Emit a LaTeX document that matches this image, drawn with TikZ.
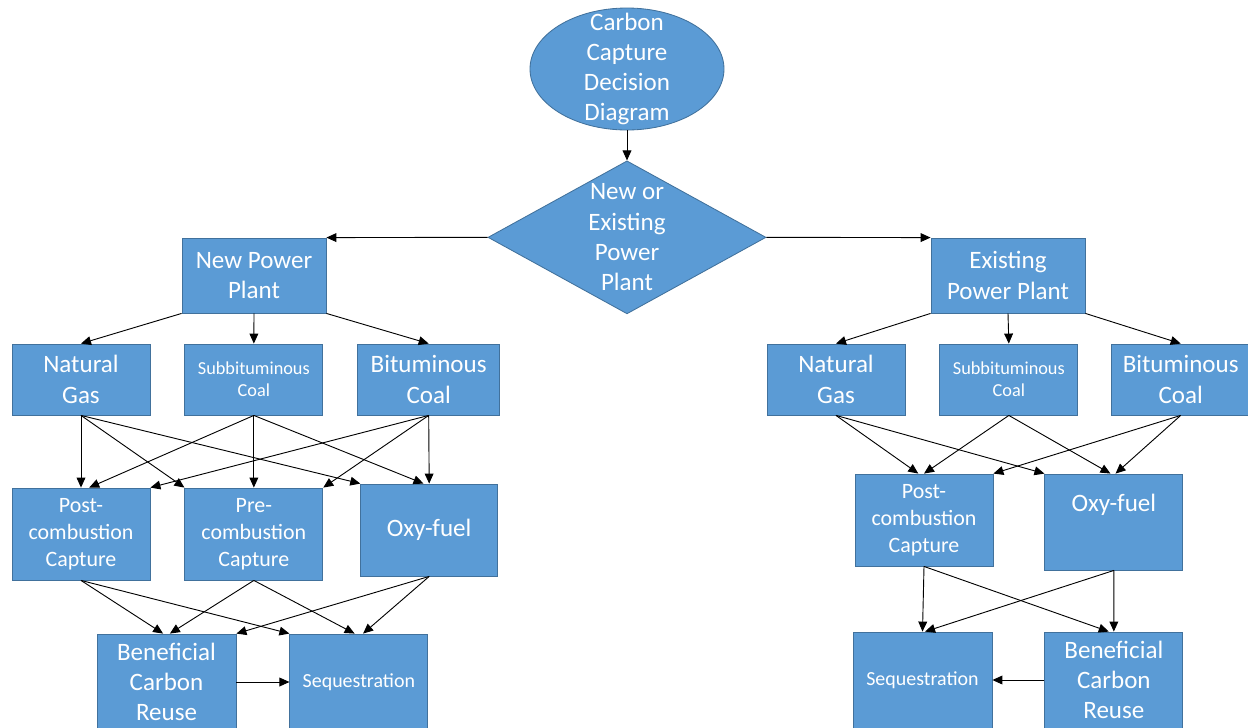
\documentclass[tikz,border=0pt]{standalone}
\usepackage{fontspec}
\setmainfont{Carlito}
\usetikzlibrary{arrows.meta,positioning,shapes.geometric}
\definecolor{boxfill}{HTML}{5B9BD5}
\definecolor{boxline}{HTML}{41719C}
\newcommand{\bigtxt}{\fontsize{17.8pt}{21.5pt}\selectfont}
\newcommand{\midtxt}{\fontsize{15.6pt}{19.2pt}\selectfont}
\newcommand{\smalltxt}{\fontsize{13pt}{15.6pt}\selectfont}
\newcommand{\seqtxt}{\fontsize{14.2pt}{17pt}\selectfont}
\tikzset{
  box/.style={draw=boxline, fill=boxfill, line width=0.6pt, text=white, align=center, inner sep=2pt, font=\bigtxt},
  fuel/.style={box, minimum width=3.45cm, minimum height=1.775cm},
  plant/.style={box, minimum width=3.6cm, minimum height=1.875cm},
  tech/.style={box, minimum width=3.45cm, minimum height=2.3cm, font=\midtxt},
  goal/.style={box, minimum width=3.45cm, minimum height=2.4cm},
  oval/.style={ellipse, draw=boxline, fill=boxfill, line width=0.6pt, minimum width=4.85cm, minimum height=3.05cm, inner sep=0pt},
  decision/.style={diamond, draw=boxline, fill=boxfill, line width=0.6pt, minimum width=6.95cm, minimum height=3.825cm, inner sep=0pt},
  txt/.style={text=white, align=center, font=\bigtxt},
  flow/.style={-{Triangle[length=2.5mm, width=2.2mm]}, line width=0.65pt, draw=black}
}
\begin{document}
\begin{tikzpicture}
  \useasboundingbox (0,0) rectangle (31.2,-18.175);
  \node[oval, label={[txt]center:{Carbon\\Capture\\Decision\\Diagram}}] (start) at (15.675,-1.725) {};
  \node[decision, below=0.75cm of start, label={[txt]center:{New or\\Existing\\Power\\Plant}}] (kind) {};

  % new plant
  \node[plant] (newpp) at (6.35,-6.8875) {New Power\\Plant};
  \node[fuel] (gas1) at (2.025,-9.4875) {Natural\\Gas};
  \node[fuel, font=\smalltxt, right=0.85cm of gas1] (sub1) {Subbituminous\\Coal};
  \node[fuel, minimum width=3.55cm, right=0.85cm of sub1] (bit1) {Bituminous\\Coal};
  \node[tech] (post1) at (2.025,-13.35) {Post-\\combustion\\Capture};
  \node[tech, right=0.85cm of post1] (pre1) {Pre-\\combustion\\Capture};
  \node[tech, font=\bigtxt, minimum width=3.425cm, right=0.925cm of pre1, yshift=0.1cm] (oxy1) {Oxy-fuel};
  \node[goal, minimum width=3.475cm] (reuse1) at (4.1625,-17.05) {Beneficial\\Carbon\\Reuse};
  \node[goal, font=\seqtxt, right=1.325cm of reuse1] (seq1) {Sequestration};

  % existing plant
  \node[plant, minimum width=3.85cm] (oldpp) at (25.2,-6.8875) {Existing\\Power Plant};
  \node[fuel] (gas2) at (20.9,-9.4875) {Natural\\Gas};
  \node[fuel, font=\smalltxt, right=0.85cm of gas2] (sub2) {Subbituminous\\Coal};
  \node[fuel, right=0.825cm of sub2] (bit2) {Bituminous\\Coal};
  \node[tech] (post2) at (23.1,-13.0) {Post-\\combustion\\Capture};
  \node[goal, right=1.275cm of post2, yshift=-0.05cm] (oxy2) {Oxy-fuel\\\strut};
  \node[goal, font=\seqtxt, minimum width=3.475cm] (seq2) at (23.0625,-17.0) {Sequestration};
  \node[goal, right=1.3cm of seq2] (reuse2) {Beneficial\\Carbon\\Reuse};

  \draw[flow] (start) -- (kind);
  \draw[flow] (kind.west) -- (newpp.north east);
  \draw[flow] (kind.east) -- (oldpp.north west);

  \draw[flow] (newpp.south west) -- (gas1.north);
  \draw[flow] (newpp.south) -- (sub1.north);
  \draw[flow] (newpp.south east) -- (bit1.north);
  \draw[flow] (gas1.south) -- (post1.north);
  \draw[flow] (gas1.south) -- (pre1.north west);
  \draw[flow] (gas1.south) -- (oxy1.north west);
  \draw[flow] (sub1.south) -- (post1.80);
  \draw[flow] (sub1.south) -- (pre1.north);
  \draw[flow] (sub1.south) -- (oxy1.97);
  \draw[flow] (bit1.south) -- (post1.north east);
  \draw[flow] (bit1.south) -- (pre1.north east);
  \draw[flow] (bit1.south) -- (oxy1.north);
  \draw[flow] (post1.south) -- (reuse1.94);
  \draw[flow] (post1.south) -- (seq1.north west);
  \draw[flow] (pre1.south) -- (reuse1.86);
  \draw[flow] (pre1.south) -- (seq1.95);
  \draw[flow] (oxy1.south) -- (reuse1.north east);
  \draw[flow] (oxy1.south) -- (seq1.85);
  \draw[flow] (reuse1) -- (seq1);

  \draw[flow] (oldpp.south west) -- (gas2.north);
  \draw[flow] (oldpp.south) -- (sub2.north);
  \draw[flow] (oldpp.south east) -- (bit2.north);
  \draw[flow] (gas2.south) -- (post2.97);
  \draw[flow] (gas2.south) -- (oxy2.north west);
  \draw[flow] (sub2.south) -- (post2.north);
  \draw[flow] (sub2.south) -- (oxy2.94);
  \draw[flow] (bit2.south) -- (post2.north east);
  \draw[flow] (bit2.south) -- (oxy2.88);
  \draw[flow] (post2.south) -- (seq2.north);
  \draw[flow] (post2.south) -- (reuse2.96);
  \draw[flow] (oxy2.south) -- (seq2.87);
  \draw[flow] (oxy2.south) -- (reuse2.north);
  \draw[flow] (reuse2) -- (seq2);
\end{tikzpicture}
\end{document}
